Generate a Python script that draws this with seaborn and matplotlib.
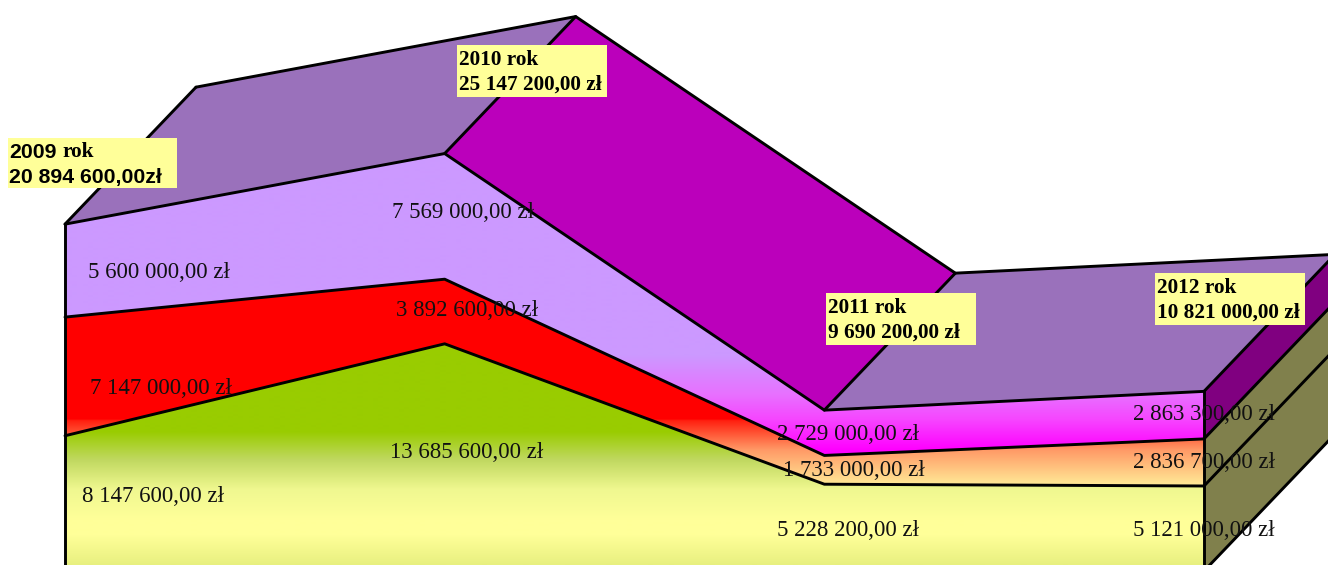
import numpy as np
import pandas as pd
import matplotlib
matplotlib.use("Agg")
import matplotlib.pyplot as plt
from matplotlib.colors import to_rgb
from matplotlib.patches import Polygon, Rectangle
import seaborn as sns

years = ["2009", "2010", "2011", "2012"]
bottom_values = [8147600, 13685600, 5228200, 5121000]
middle_values = [7147000, 3892600, 1733000, 2836700]
top_values = [5600000, 7569000, 2729000, 2863300]
totals = [20894600, 25147200, 9690200, 10821000]

W, H = 1328, 565
X0, XSTEP = 65.0, 379.67
BASE, SCALE = 571.0, 16.6e-6
DX_PX, DY_PX = 131.0, 137.0

sns.set_theme(style="white")
plt.rcParams["font.family"] = ["Liberation Serif", "DejaVu Sans"]
fig = plt.figure(figsize=(W / 100, H / 100), dpi=100)
ax = fig.add_axes([0, 0, 1, 1])
ax.axis("off")

xlim = (-X0 / XSTEP, (W - X0) / XSTEP)
ylim = ((BASE - H) / SCALE, BASE / SCALE)
dx, dy = DX_PX / XSTEP, DY_PX / SCALE
xs = np.arange(len(years), dtype=float)
lvl1 = np.array(bottom_values, dtype=float)
lvl2 = lvl1 + np.array(middle_values)
lvl3 = lvl2 + np.array(top_values)
lvl0 = np.zeros(len(years))


def face(pts, color, z=1):
    ax.add_patch(Polygon(pts, closed=True, fc=color, ec="none", zorder=z))


def gradient_band(lower, upper, stops):
    pys = np.arange(H + 1)
    sp = [s[0] for s in stops]
    cols = np.array([to_rgb(s[1]) for s in stops])
    arr = np.stack([np.interp(pys, sp, cols[:, i]) for i in range(3)], axis=1)[:, None, :]
    im = ax.imshow(arr, extent=(*xlim, *ylim), origin="upper", aspect="auto",
                   interpolation="bilinear", zorder=2)
    pts = list(zip(xs, upper)) + list(zip(xs[::-1], lower[::-1]))
    clip = Polygon(pts, closed=True, transform=ax.transData, fc="none", ec="none")
    ax.add_patch(clip)
    im.set_clip_path(clip)


TOPFACE = "#9A71BB"
SLOPE = "#BB00BB"
DARK = "#800080"
OLIVE = "#80804C"

# roof faces
for i, c in zip(range(3), [TOPFACE, SLOPE, TOPFACE]):
    face([(xs[i], lvl3[i]), (xs[i + 1], lvl3[i + 1]),
          (xs[i + 1] + dx, lvl3[i + 1] + dy), (xs[i] + dx, lvl3[i] + dy)], c)
# right-hand side faces
for lo, hi, c in [(lvl0, lvl1, OLIVE), (lvl1, lvl2, OLIVE), (lvl2, lvl3, DARK)]:
    face([(xs[3], lo[3]), (xs[3], hi[3]), (xs[3] + dx, hi[3] + dy), (xs[3] + dx, lo[3] + dy)], c)

# front bands with vertical gradients
gradient_band(lvl2, lvl3, [(0, "#CC99FF"), (355, "#CC99FF"), (395, "#E870FF"), (420, "#F645FF"), (450, "#FF00FF"), (565, "#FF00FF")])
gradient_band(lvl1, lvl2, [(0, "#FF0000"), (419, "#FF0000"), (421, "#FF2010"), (450, "#FF9966"), (487, "#FFEE99"), (565, "#FFEE99")])
gradient_band(lvl0, lvl1, [(0, "#99CC00"), (432, "#99CC00"), (460, "#C0D860"), (490, "#F0F890"), (520, "#FFFF99"), (535, "#FFFF99"), (565, "#E8F080")])

# edges, through seaborn
rows = []
def edge(name, ex, ey):
    for a, b in zip(ex, ey):
        rows.append({"edge": name, "x": a, "y": b})

edge("front1", xs, lvl1)
edge("front2", xs, lvl2)
edge("front3", xs, lvl3)
edge("back3", xs + dx, lvl3 + dy)
edge("left", [xs[0], xs[0]], [0, lvl3[0]])
edge("right", [xs[3], xs[3]], [0, lvl3[3]])
for i in range(4):
    edge(f"depth3{i}", [xs[i], xs[i] + dx], [lvl3[i], lvl3[i] + dy])
for name, lv in [("d0", lvl0), ("d1", lvl1), ("d2", lvl2)]:
    edge(name, [xs[3], xs[3] + dx], [lv[3], lv[3] + dy])
df = pd.DataFrame(rows)
sns.lineplot(data=df, x="x", y="y", units="edge", estimator=None, sort=False,
             color="black", lw=2.1, ax=ax, zorder=4, legend=False)
ax.set_xlim(*xlim)
ax.set_ylim(*ylim)


def money(v, sep=" zł"):
    return f"{v:,.2f}".replace(",", " ").replace(".", ",") + sep


def at(px, py):
    return px / W, 1 - py / H


# value labels
label_px = [
    [(153, 497), (161, 388), (159, 272)],
    [(467, 452), (467, 310), (463, 212)],
    [(848, 530), (854, 470), (848, 434)],
    [(1204, 530), (1204, 462), (1204, 415)],
]
for i in range(4):
    for j, v in enumerate((bottom_values[i], middle_values[i], top_values[i])):
        px, py = label_px[i][j]
        ax.text(*at(px, py), money(v), transform=ax.transAxes, ha="center", va="center",
                fontsize=16.5, family="Liberation Serif", color="#111111", zorder=6)

# yellow callouts
boxes = [(8, 138, 169, 50), (457, 45, 150, 52), (826, 293, 150, 52), (1155, 273, 150, 52)]
for i, (bx, by, bw, bh) in enumerate(boxes):
    x0, y0 = at(bx, by + bh)
    ax.add_patch(Rectangle((x0, y0), bw / W, bh / H, transform=ax.transAxes,
                           fc="#FFFF99", ec="none", zorder=7))
    tx = bx + 2
    kw = dict(transform=ax.transAxes, ha="left", va="center", fontsize=15.3,
              fontweight="bold", color="black", zorder=8)
    if i == 0:
        ax.text(*at(tx - 1, by + 14), years[i], family="Liberation Sans", **kw)
        ax.text(*at(tx + 52, by + 14), "rok", family="Liberation Serif", **kw)
        ax.text(*at(tx - 1, by + 39), money(totals[i], "zł"), family="Liberation Sans", **kw)
    else:
        ax.text(*at(tx, by + 15), f"{years[i]} rok", family="Liberation Serif", **kw)
        ax.text(*at(tx, by + 40), money(totals[i]), family="Liberation Serif", **kw)

fig.savefig("out.png", dpi=100, facecolor="white")
